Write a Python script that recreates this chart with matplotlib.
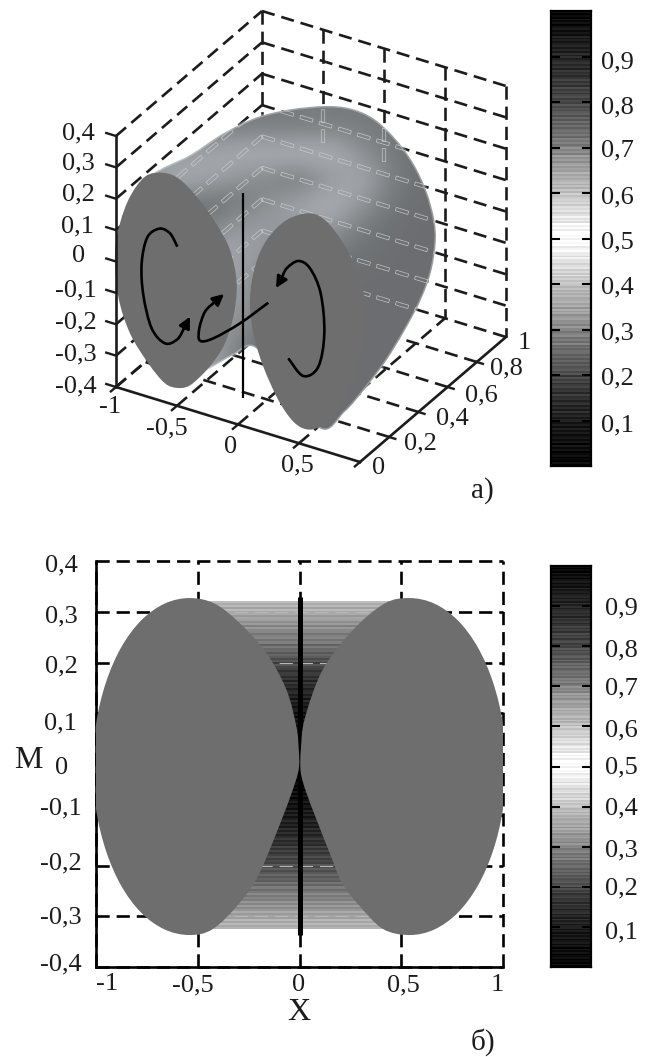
import numpy as np
import matplotlib
matplotlib.use('Agg')
import matplotlib.pyplot as plt
from matplotlib.path import Path
from matplotlib.patches import PathPatch
from matplotlib.colors import LinearSegmentedColormap

plt.rcParams['font.family'] = ['Liberation Serif', 'DejaVu Serif']
plt.rcParams['lines.scale_dashes'] = False

# --- panel a: axis ticks
z_ticks = [0.4, 0.3, 0.2, 0.1, 0, -0.1, -0.2, -0.3, -0.4]
x_ticks = [-1, -0.5, 0, 0.5, 1]
y_ticks = [0, 0.2, 0.4, 0.6, 0.8, 1]

# (text, x, y) in picture pixels
labels_a = [('0,4', 78, 133), ('0,3', 78, 163), ('0,2', 78, 194), ('0,1', 77, 226),
            ('0', 79, 256), ('-0,1', 76, 290), ('-0,2', 76, 322), ('-0,3', 76, 354),
            ('-0,4', 76, 386), ('-1', 110, 407), ('-0,5', 167, 428), ('0', 231, 447),
            ('0,5', 297, 465), ('0', 379, 468), ('0,2', 420, 443), ('0,4', 452, 418),
            ('0,6', 481, 395), ('0,8', 506, 368), ('1', 524, 343)]
labels_b = [('0,4', 61, 565), ('0,3', 61, 616), ('0,2', 61, 666), ('0,1', 60, 723),
            ('0', 62, 768), ('-0,1', 61, 808), ('-0,2', 61, 863), ('-0,3', 61, 917),
            ('-0,4', 61, 964), ('-1', 107, 984), ('-0,5', 193, 985), ('0', 299, 985),
            ('0,5', 403, 985), ('1', 497, 985)]
cbar_text = ['0,9', '0,8', '0,7', '0,6', '0,5', '0,4', '0,3', '0,2', '0,1']
cbar_a_y = [62, 107, 150, 197, 242, 287, 333, 378, 425]
cbar_b_y = [608, 650, 688, 730, 767, 808, 850, 888, 932]
cbar_ticks = [0.1, 0.2, 0.3, 0.4, 0.5, 0.6, 0.7, 0.8, 0.9]

# colour bar bands, top (1) to bottom (0)
cbar_gray = [.03, .05, .07, .10, .12, .14,
             .16, .18, .20, .23, .25, .27,
             .30, .34, .38, .41, .45, .48,
             .54, .58, .62, .66, .70, .73,
             .79, .83, .87, .91, .96, 1.0,
             .99, .95, .90, .86, .83, .79,
             .73, .69, .66, .63, .59, .55,
             .50, .47, .43, .39, .35, .32,
             .26, .23, .20, .17, .15, .13,
             .10, .08, .07, .05, .03, .02]

# bands between the lobes in panel b, top to bottom
stripe_gray = [.70, .68, .64,
               .59, .55, .50, .48,
               .43, .39, .32, .29,
               .23, .20, .18, .16,
               .14, .12, .10, .08,
               .07, .06, .04, .03,
               .02, .015, .01, .005,
               .005, .01, .02, .03,
               .045, .06, .075, .095,
               .11, .13, .145, .165,
               .19, .215, .24, .265,
               .30, .335, .37, .41,
               .46, .50, .54, .58,
               .63, .67, .70]
# fine streaks laid over the bands
streak = [.04, -.03, .02, -.05, .05, -.02, .03, -.04, .01]

# panel b lobes (X, M)
lobe_left_b = [(-.002, -.004), (-.004, .03), (-.015, .073), (-.064, .146), (-.163, .219), (-.295, .278),
               (-.417, .316), (-.54, .327), (-.663, .316), (-.778, .283), (-.876, .230), (-.951, .161),
               (-.999, .081), (-1.015, -.005), (-.999, -.091), (-.951, -.171), (-.876, -.240),
               (-.778, -.293), (-.663, -.326), (-.54, -.337), (-.425, -.325),
               (-.295, -.274), (-.197, -.215), (-.083, -.105), (-.02, -.035)]
lobe_right_b = [(.004, -.004), (.007, .03), (.025, .088), (.113, .185), (.26, .263), (.417, .316),
                (.54, .327), (.663, .316), (.778, .283), (.876, .230), (.951, .161),
                (.999, .081), (1.015, -.005), (.999, -.091), (.951, -.171), (.876, -.240),
                (.778, -.293), (.663, -.326), (.54, -.337), (.41, -.325),
                (.296, -.28), (.21, -.235), (.148, -.175), (.084, -.11), (.034, -.057), (.01, -.025)]

# panel a outlines, read in 3x crop units of the upper picture
lobe_left_a = [(215, 518), (265, 535), (320, 590), (375, 665), (420, 750), (440, 850), (430, 950),
               (400, 1040), (350, 1110), (300, 1155), (265, 1164), (225, 1150), (175, 1090),
               (120, 1000), (85, 890), (75, 760), (90, 670), (120, 590), (165, 530)]
lobe_right_a = [(660, 640), (710, 665), (760, 730), (800, 810), (825, 900), (828, 970), (815, 1060),
                (790, 1150), (740, 1240), (690, 1280), (650, 1288), (610, 1265), (565, 1200),
                (520, 1100), (490, 1000), (480, 900), (495, 800), (530, 720), (590, 660)]
outline_a = [(180, 530), (300, 465), (400, 400), (500, 352), (600, 328), (705, 318), (780, 325),
             (850, 355), (915, 415), (970, 490), (1010, 575), (1033, 660), (1037, 730), (1022, 820),
             (990, 905), (945, 990), (890, 1080), (830, 1160), (765, 1235), (690, 1285), (560, 1120),
             (490, 1040), (430, 1065), (350, 1110), (265, 1150), (120, 900), (110, 650)]
arrow_1 = [(262, 740), (240, 700), (208, 686), (172, 712), (155, 790), (160, 885), (185, 985),
           (225, 1030), (262, 1018), (282, 985)]
arrow_1_tip = (300, 950)
arrow_2 = [(535, 908), (450, 970), (370, 1015), (330, 1022), (328, 985), (345, 935), (372, 908)]
arrow_2_tip = (402, 882)
arrow_3 = [(595, 1075), (640, 1128), (685, 1100), (703, 1000), (692, 880), (660, 805), (625, 783),
           (590, 805), (575, 835)]
arrow_3_tip = (558, 864)
center_line_a = [(458, 580), (458, 1195)]

# surface shading, gray level over picture pixels
surf_x = [120, 150, 180, 210, 240, 270, 300, 330, 360, 390, 420, 450]
surf_y = [105, 125, 150, 175, 200, 225, 250, 275, 300, 325, 350, 375, 400, 425]
surf_gray = [[125, 125, 125, 125, 125, 125, 125, 125, 125, 120, 118, 115],
             [122, 122, 125, 128, 130, 130, 130, 132, 128, 122, 118, 115],
             [135, 150, 160, 172, 182, 188, 188, 190, 150, 125, 115, 112],
             [150, 170, 180, 170, 150, 132, 118, 150, 182, 130, 115, 112],
             [135, 135, 122, 112, 122, 150, 170, 188, 155, 122, 112, 112],
             [125, 125, 118, 135, 160, 160, 155, 160, 125, 115, 112, 112],
             [125, 130, 150, 165, 170, 150, 130, 125, 118, 112, 112, 112],
             [130, 140, 160, 165, 165, 130, 118, 115, 112, 112, 112, 112],
             [150, 155, 160, 165, 160, 120, 112, 112, 112, 112, 112, 112],
             [150, 155, 160, 165, 145, 115, 112, 112, 112, 112, 112, 112],
             [170, 170, 165, 170, 125, 112, 112, 112, 112, 112, 112, 112],
             [200, 200, 190, 175, 120, 112, 112, 112, 112, 112, 112, 112],
             [112, 112, 112, 112, 112, 112, 112, 112, 112, 112, 112, 112],
             [112, 112, 112, 112, 112, 112, 112, 112, 112, 112, 112, 112]]
# short grid verticals that show on the surface: x, top z, bottom z
ghost_verticals = [(-0.5, 0.4, 0.03), (0, 0.4, 0.04)]

LOBE = '#6e6e6e'
INK = '#1c1c1c'
DASH = (0, (9.5, 5))
FS = 19


def crop(pts):
    return np.array(pts, float) / 3 + [90, 0]


def project(x, y, z):
    # axonometric view of the upper box
    px = 116 + (x + 1) * 122 + y * 146
    py = 387 + (x + 1) * 37.5 - y * 125 - (z + 0.4) * 313.75
    return px, py


def smooth(pts, closed=True):
    # bezier curve through the read points
    pts = np.asarray(pts, float)
    n = len(pts)
    if closed:
        get = lambda i: pts[i % n]
        count = n
    else:
        get = lambda i: pts[min(max(i, 0), n - 1)]
        count = n - 1
    verts = [pts[0]]
    codes = [Path.MOVETO]
    for i in range(count):
        p1, p2 = get(i), get(i + 1)
        verts += [p1 + (p2 - get(i - 1)) / 6, p2 - (get(i + 2) - p1) / 6, p2]
        codes += [Path.CURVE4] * 3
    return Path(verts, codes)


def hollow_dashes(p0, p1, on=13, off=7, w=3.4):
    # outlined dashes along a segment, as the grid shows through the surface
    p0, p1 = np.array(p0), np.array(p1)
    length = np.hypot(*(p1 - p0))
    d = (p1 - p0) / length
    n = np.array([-d[1], d[0]]) * w / 2
    verts, codes = [], []
    s = 0
    while s < length:
        a, b = p0 + d * s, p0 + d * min(s + on, length)
        verts += [a + n, b + n, b - n, a - n, a + n]
        codes += [Path.MOVETO, Path.LINETO, Path.LINETO, Path.LINETO, Path.CLOSEPOLY]
        s += on + off
    return verts, codes


def bands(values, repeat):
    rows = np.repeat(values, repeat)
    return (rows + np.resize(streak, len(rows)))[:, None]


fig = plt.figure(figsize=(6.48, 10.57), dpi=100)

# whole picture axes for the 3D box and texts
ax = fig.add_axes([0, 0, 1, 1])
ax.axis('off')

# segments of the box grid
wall_segs = []
for z in z_ticks:
    wall_segs.append(((-1, 0, z), (-1, 1, z)))
    wall_segs.append(((-1, 1, z), (1, 1, z)))
other_segs = []
for x in x_ticks:
    other_segs.append(((x, 1, 0.4), (x, 1, -0.4)))
    if -1 < x < 1:
        other_segs.append(((x, 0, -0.4), (x, 1, -0.4)))
other_segs.append(((-1, 0, -0.4), (-1, 1, -0.4)))
for y in y_ticks[1:-1]:
    other_segs.append(((1, y, -0.4), (-1, y, -0.4)))

outline_path = smooth(crop(outline_a))
for a, b in wall_segs + other_segs:
    pa, pb = project(*a), project(*b)
    ax.plot([pa[0], pb[0]], [pa[1], pb[1]], color=INK, lw=1.9, ls=DASH, dash_capstyle='butt', zorder=1)

ghost_v, ghost_c = [], []
for a, b in wall_segs + [((x, 1, z0), (x, 1, z1)) for x, z0, z1 in ghost_verticals]:
    v, c = hollow_dashes(project(*a), project(*b))
    ghost_v += v
    ghost_c += c

# surface
tint = LinearSegmentedColormap.from_list('tint', ['black', '#f4faff'])
im = ax.imshow(surf_gray, cmap=tint, vmin=0, vmax=255, interpolation='bicubic', aspect='auto',
               extent=[surf_x[0] - 15, surf_x[-1] + 15, surf_y[-1] + 12.5, surf_y[0] - 12.5], zorder=2)
ax.set_xlim(0, 648)
ax.set_ylim(1057, 0)
im.set_clip_path(outline_path, transform=ax.transData)
ax.add_patch(PathPatch(outline_path, fc='none', ec='white', lw=2.2, alpha=0.3, zorder=2.1))

# grid seen through the surface
ghost = PathPatch(Path(ghost_v, ghost_c), fc='none', ec='#c8cccc', lw=0.55, alpha=0.85, zorder=2.5)
ax.add_patch(ghost)
ghost.set_clip_path(outline_path, transform=ax.transData)

# lobes
for pts in (lobe_left_a, lobe_right_a):
    ax.add_patch(PathPatch(smooth(crop(pts)), fc=LOBE, ec='none', zorder=3))

# solid axes with ticks
for a, b in [((-1, 0, 0.4), (-1, 0, -0.4)), ((-1, 0, -0.4), (1, 0, -0.4)), ((1, 0, -0.4), (1, 1, -0.4))]:
    pa, pb = project(*a), project(*b)
    ax.plot([pa[0], pb[0]], [pa[1], pb[1]], color=INK, lw=1.9, solid_capstyle='projecting', zorder=4)
for z in z_ticks:
    pa, pb = project(-1, 0, z), project(-1.08, 0, z)
    ax.plot([pa[0], pb[0]], [pa[1], pb[1]], color=INK, lw=1.7, zorder=4)
for x in x_ticks:
    pa, pb = project(x, 0, -0.4), project(x, -0.035, -0.4)
    ax.plot([pa[0], pb[0]], [pa[1], pb[1]], color=INK, lw=1.7, zorder=4)
for y in y_ticks[1:-1]:
    pa, pb = project(1, y, -0.4), project(1.05, y, -0.4)
    ax.plot([pa[0], pb[0]], [pa[1], pb[1]], color=INK, lw=1.7, zorder=4)

# centre line and circulation arrows
line = crop(center_line_a)
ax.plot(line[:, 0], line[:, 1], color='black', lw=1.6, solid_capstyle='butt', zorder=4)
for pts, tip in [(arrow_1, arrow_1_tip), (arrow_2, arrow_2_tip), (arrow_3, arrow_3_tip)]:
    pts = crop(pts)
    ax.add_patch(PathPatch(smooth(pts, closed=False), fc='none', ec='black', lw=1.9, zorder=5))
    ax.annotate('', xy=crop([tip])[0], xytext=pts[-1], zorder=6,
                arrowprops=dict(arrowstyle='-|>', color='black', lw=1.9, mutation_scale=17,
                                shrinkA=0, shrinkB=0))

# texts
for text, x, y in labels_a + labels_b:
    ax.text(x, y, text, ha='center', va='center', fontsize=FS, color=INK)
for text, y1, y2 in zip(cbar_text, cbar_a_y, cbar_b_y):
    ax.text(617, y1, text, ha='center', va='center', fontsize=FS, color=INK)
    ax.text(621, y2, text, ha='center', va='center', fontsize=FS, color=INK)
ax.text(482, 491, 'а)', ha='center', va='center', fontsize=21, color=INK)
ax.text(483, 1042, 'б)', ha='center', va='center', fontsize=21, color=INK)
ax.text(28, 760, 'M', ha='center', va='center', fontsize=23, color=INK)
ax.text(299, 1012, 'X', ha='center', va='center', fontsize=23, color=INK)

# panel b
ax_b = fig.add_axes([96 / 648, (1057 - 967) / 1057, 407 / 648, 406 / 1057], facecolor='none')
ax_b.set_xticks(x_ticks)
ax_b.set_yticks(z_ticks)
ax_b.set_xticklabels([])
ax_b.set_yticklabels([])
ax_b.tick_params(length=0)
ax_b.set_axisbelow(True)
ax_b.grid(color='black', lw=1.9, ls=DASH)
ax_b.spines['top'].set_visible(False)
ax_b.spines['right'].set_visible(False)
ax_b.spines['left'].set_linewidth(1.9)
ax_b.spines['bottom'].set_linewidth(1.9)

ax_b.imshow(bands(stripe_gray, 3), cmap='gray', vmin=0, vmax=1, aspect='auto',
            interpolation='nearest', extent=[-0.5, 0.5, -0.325, 0.32], zorder=1)
ax_b.set_xlim(-1, 1)
ax_b.set_ylim(-0.4, 0.4)
for gl in ax_b.get_xgridlines() + ax_b.get_ygridlines():
    gl.set_clip_on(False)
for m, half in [(0.3, 0.42), (-0.3, 0.42), (0.2, 0.2), (-0.2, 0.2)]:
    ax_b.plot([-half, half], [m, m], color='#b8b8b8', lw=0.8, ls=DASH, zorder=1.5)
ax_b.plot([0, 0], [0.329, -0.337], color='black', lw=3.6, solid_capstyle='butt', zorder=2)
for pts in (lobe_left_b, lobe_right_b):
    ax_b.add_patch(PathPatch(smooth(pts), fc=LOBE, ec='none', zorder=3))

# colour bars
for bottom, height in [(466, 455), (967, 401)]:
    cb = fig.add_axes([551 / 648, (1057 - bottom) / 1057, 40 / 648, height / 1057])
    cb.imshow(bands(cbar_gray, 4), cmap='gray', vmin=0, vmax=1, aspect='auto',
              interpolation='nearest', extent=[0, 1, 0, 1])
    cb.set_xticks([])
    cb.set_yticks(cbar_ticks)
    cb.set_yticklabels([])
    cb.tick_params(axis='y', direction='in', left=True, right=True, length=6.5, width=1.5, color='black')
    for s in cb.spines.values():
        s.set_linewidth(1.6)

fig.savefig('out.png', dpi=100)
